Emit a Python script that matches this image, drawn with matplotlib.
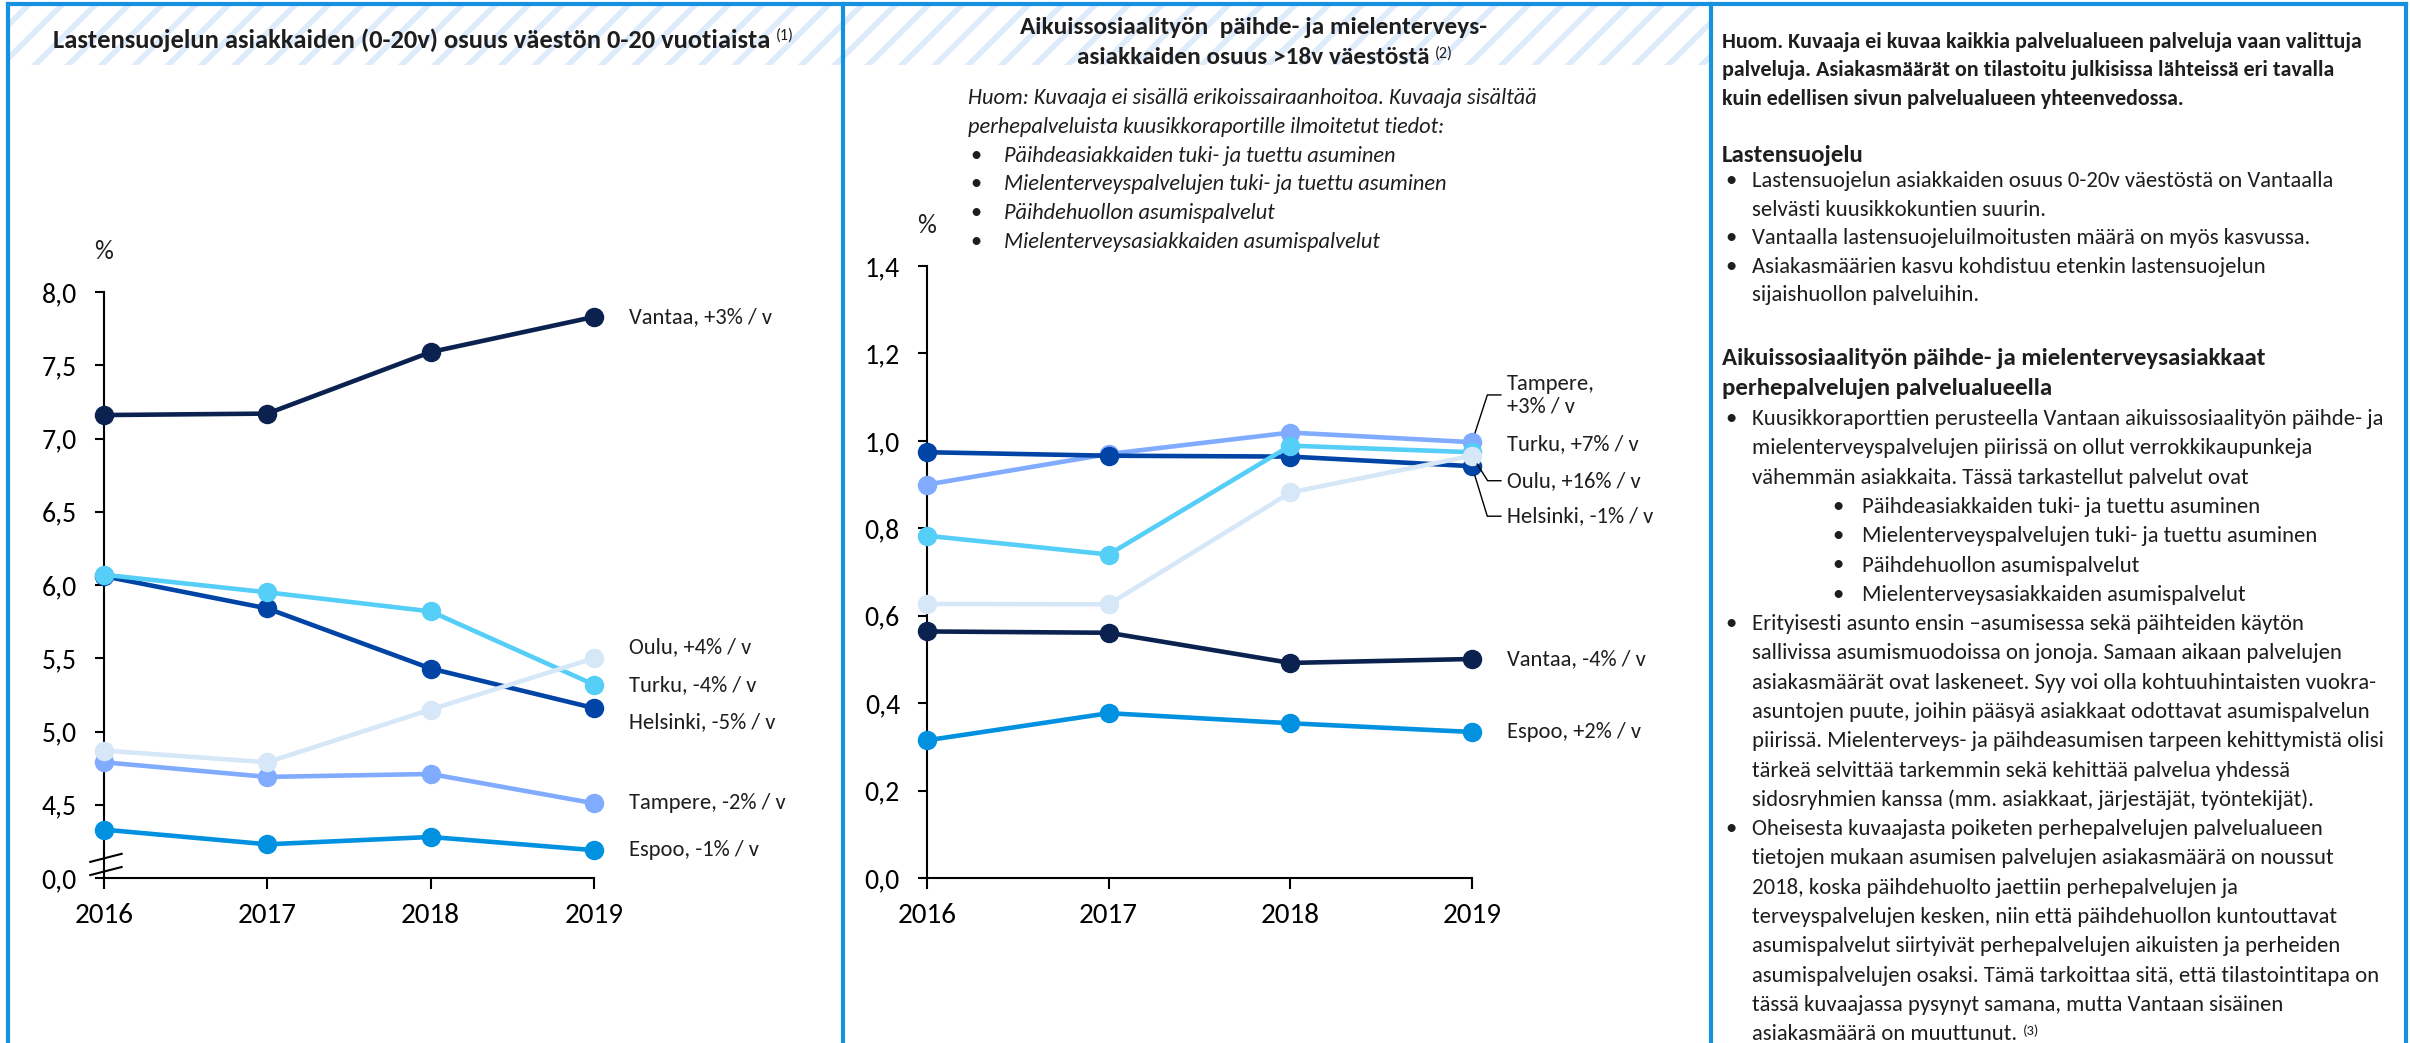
import matplotlib
matplotlib.use("Agg")
import matplotlib.pyplot as plt
import matplotlib.transforms as mtransforms
from matplotlib.lines import Line2D
from matplotlib.patches import Rectangle
from matplotlib.ticker import FixedLocator, FuncFormatter

W, H = 2410, 1043

# ---- data -----------------------------------------------------------------
years = [2016, 2017, 2018, 2019]
cities = ["Espoo", "Tampere", "Helsinki", "Turku", "Oulu", "Vantaa"]

# Lastensuojelun asiakkaiden osuus 0-20v vaestosta (%)
child_vantaa = [7.16, 7.17, 7.59, 7.83]
child_helsinki = [6.06, 5.84, 5.43, 5.16]
child_turku = [6.07, 5.95, 5.82, 5.32]
child_oulu = [4.87, 4.79, 5.15, 5.50]
child_tampere = [4.79, 4.69, 4.71, 4.51]
child_espoo = [4.33, 4.23, 4.28, 4.19]
child_growth = ["-1%", "-2%", "-5%", "-4%", "+4%", "+3%"]

# Paihde- ja mielenterveysasiakkaiden osuus >18v vaestosta (%)
adult_vantaa = [0.564, 0.561, 0.492, 0.501]
adult_helsinki = [0.974, 0.966, 0.964, 0.942]
adult_turku = [0.783, 0.740, 0.989, 0.974]
adult_oulu = [0.627, 0.626, 0.882, 0.966]
adult_tampere = [0.900, 0.970, 1.019, 0.997]
adult_espoo = [0.315, 0.377, 0.354, 0.334]
adult_growth = ["+2%", "+3%", "-1%", "+7%", "+16%", "-4%"]

child = dict(zip(cities, [child_espoo, child_tampere, child_helsinki,
                          child_turku, child_oulu, child_vantaa]))
adult = dict(zip(cities, [adult_espoo, adult_tampere, adult_helsinki,
                          adult_turku, adult_oulu, adult_vantaa]))

# ---- style ----------------------------------------------------------------
COLORS = {
    "Vantaa": "#0B2250",
    "Helsinki": "#0044A6",
    "Turku": "#55CEF8",
    "Oulu": "#D6E7F8",
    "Tampere": "#80ABFF",
    "Espoo": "#0091E0",
}
BORDER = "#1591E0"
HATCH = "#DDEBFB"
TXT = "#1E1E1E"
FONT = ["Carlito", "Lato", "DejaVu Sans"]

plt.rcParams.update({
    "font.family": FONT,
    "text.color": TXT,
    "hatch.linewidth": 4.0,
    "axes.linewidth": 1.5,
})


def fx(px):
    return px / W


def fy(py):
    return 1 - py / H


fig = plt.figure(figsize=(W / 100, H / 100), dpi=100)

# header bands with diagonal stripes
for x0, x1 in [(10, 841), (845, 1709)]:
    fig.add_artist(Rectangle((fx(x0), fy(65)), (x1 - x0) / W, 59 / H,
                             transform=fig.transFigure, facecolor="white",
                             edgecolor=HATCH, hatch="/", lw=0, zorder=0))

# panel borders
for xs, ys in [((8, 8), (4, H)), ((2406, 2406), (4, H)), ((843, 843), (4, H)),
               ((1711, 1711), (4, H)), ((8, 2406), (4, 4))]:
    fig.add_artist(Line2D([fx(v) for v in xs], [fy(v) for v in ys],
                          color=BORDER, lw=3, transform=fig.transFigure, zorder=5))

# panel titles
t1 = fig.text(fx(412), fy(40), "Lastensuojelun asiakkaiden (0-20v) osuus väestön 0-20 vuotiaista",
              ha="center", va="center", fontsize=19.1, fontweight="bold")
fig.text(fx(1253), fy(28), "Aikuissosiaalityön  päihde- ja mielenterveys-",
         ha="center", va="center", fontsize=18.2, fontweight="bold")
t2b = fig.text(fx(1253), fy(57), "asiakkaiden osuus >18v väestöstä",
               ha="center", va="center", fontsize=18.2, fontweight="bold")


def superscript(anchor, label, size=11.5):
    fig.add_artist(plt.Annotation(label, xy=(1, 1), xycoords=anchor, xytext=(4, 0),
                                  textcoords="offset points", ha="left", va="top",
                                  fontsize=size))


superscript(t1, "(1)")
superscript(t2b, "(2)")

# note in the middle panel
note_lines = [
    "Huom: Kuvaaja ei sisällä erikoissairaanhoitoa. Kuvaaja sisältää",
    "perhepalveluista kuusikkoraportille ilmoitetut tiedot:",
]
note_bullets = [
    "Päihdeasiakkaiden tuki- ja tuettu asuminen",
    "Mielenterveyspalvelujen tuki- ja tuettu asuminen",
    "Päihdehuollon asumispalvelut",
    "Mielenterveysasiakkaiden asumispalvelut",
]
for i, line in enumerate(note_lines):
    fig.text(fx(968), fy(98 + i * 28.8), line, ha="left", va="center",
             fontsize=16.1, style="italic")
for i, line in enumerate(note_bullets):
    yy = fy(98 + (i + 2) * 28.8)
    fig.text(fx(970), yy, "•", ha="left", va="center", fontsize=16.1)
    fig.text(fx(1004), yy, line, ha="left", va="center", fontsize=16.1, style="italic")


def fmt_comma(v, _):
    return f"{v:.1f}".replace(".", ",")


def style_axes(ax):
    ax.spines["top"].set_visible(False)
    ax.spines["right"].set_visible(False)
    ax.set_xlim(years[0], years[-1])
    ax.set_xticks(years)
    ax.set_xticklabels([str(y) for y in years])
    ax.tick_params(axis="x", direction="out", length=8, width=1.5, pad=10, labelsize=21)
    ax.tick_params(axis="y", direction="out", length=6.5, width=1.5, pad=13, labelsize=20)
    ax.annotate("%", xy=(0, 1), xycoords="axes fraction", xytext=(0, 29),
                textcoords="offset points", ha="center", va="center", fontsize=19)


def draw_lines(ax, table):
    for city in cities:
        ax.plot(years, table[city], color=COLORS[city], lw=3.3, marker="o",
                markersize=13, clip_on=False, zorder=3, solid_capstyle="round")


# ---- left chart -----------------------------------------------------------
ax1 = fig.add_axes([fx(104), fy(878), (594 - 104) / W, (878 - 292) / H])
style_axes(ax1)
ax1.set_ylim(4.0, 8.0)
ax1.yaxis.set_major_locator(FixedLocator([4.0, 4.5, 5.0, 5.5, 6.0, 6.5, 7.0, 7.5, 8.0]))
ax1.yaxis.set_major_formatter(FuncFormatter(
    lambda v, p: "0,0" if abs(v - 4.0) < 1e-9 else fmt_comma(v, p)))
draw_lines(ax1, child)

# axis break marks
brk = mtransforms.blended_transform_factory(ax1.transAxes, ax1.transData)
for y0, y1 in [(4.11, 4.165), (4.02, 4.075)]:
    ax1.plot([-0.028, 0.036], [y0, y1], color="black", lw=1.5, transform=brk, clip_on=False)

child_label_dy = {"Vantaa": 0, "Oulu": 8, "Turku": 0, "Helsinki": -10, "Tampere": 0, "Espoo": 0}
for city, g in zip(cities, child_growth):
    ax1.annotate(f"{city}, {g} / v", xy=(years[-1], child[city][-1]),
                 xytext=(25, child_label_dy[city]), textcoords="offset points",
                 ha="left", va="center", fontsize=16.2)

# ---- middle chart ---------------------------------------------------------
ax2 = fig.add_axes([fx(927), fy(878), (1472 - 927) / W, (878 - 266) / H])
style_axes(ax2)
ax2.set_ylim(0.0, 1.4)
ax2.yaxis.set_major_locator(FixedLocator([0.0, 0.2, 0.4, 0.6, 0.8, 1.0, 1.2, 1.4]))
ax2.yaxis.set_major_formatter(FuncFormatter(fmt_comma))
draw_lines(ax2, adult)

adult_label_dy = {"Tampere": 34, "Turku": 6, "Oulu": -18, "Helsinki": -36, "Vantaa": 0, "Espoo": 0}
adult_leader = {"Tampere": 72, "Oulu": -58, "Helsinki": -73}
for city, g in zip(cities, adult_growth):
    label = f"{city},\n{g} / v" if city == "Tampere" else f"{city}, {g} / v"
    arrow = None
    if city in adult_leader:
        arrow = dict(arrowstyle="-", color="black", lw=1.0, shrinkA=2, shrinkB=7,
                     relpos=(0, 0.5),
                     connectionstyle=f"angle,angleA=0,angleB={adult_leader[city]},rad=0")
    ax2.annotate(label, xy=(years[-1], adult[city][-1]),
                 xytext=(25, adult_label_dy[city]), textcoords="offset points",
                 ha="left", va="center", fontsize=16.2, linespacing=1.15,
                 arrowprops=arrow)

# ---- right text panel -----------------------------------------------------
X_TXT, X_BUL, X_BTXT = 1722, 1725, 1752
X_SBUL, X_SBTXT = 1832, 1862
HEAD_SIZE = 17.9
BODY_SIZE = 16.4
intro = [
    "Huom. Kuvaaja ei kuvaa kaikkia palvelualueen palveluja vaan valittuja",
    "palveluja. Asiakasmäärät on tilastoitu julkisissa lähteissä eri tavalla",
    "kuin edellisen sivun palvelualueen yhteenvedossa.",
]
for i, line in enumerate(intro):
    fig.text(fx(X_TXT), fy(42 + i * 28.5), line, ha="left", va="center",
             fontsize=15.8, fontweight="bold")

fig.text(fx(X_TXT), fy(156), "Lastensuojelu", ha="left", va="center",
         fontsize=HEAD_SIZE, fontweight="bold")
child_text = [
    ("•", "Lastensuojelun asiakkaiden osuus 0-20v väestöstä on Vantaalla"),
    ("", "selvästi kuusikkokuntien suurin."),
    ("•", "Vantaalla lastensuojeluilmoitusten määrä on myös kasvussa."),
    ("•", "Asiakasmäärien kasvu kohdistuu etenkin lastensuojelun"),
    ("", "sijaishuollon palveluihin."),
]
for i, (b, line) in enumerate(child_text):
    yy = fy(181 + i * 28.5)
    if b:
        fig.text(fx(X_BUL), yy, b, ha="left", va="center", fontsize=BODY_SIZE)
    fig.text(fx(X_BTXT), yy, line, ha="left", va="center", fontsize=BODY_SIZE)

fig.text(fx(X_TXT), fy(358), "Aikuissosiaalityön päihde- ja mielenterveysasiakkaat",
         ha="left", va="center", fontsize=HEAD_SIZE, fontweight="bold")
fig.text(fx(X_TXT), fy(388), "perhepalvelujen palvelualueella",
         ha="left", va="center", fontsize=HEAD_SIZE, fontweight="bold")

adult_text = [
    ("b", "Kuusikkoraporttien perusteella Vantaan aikuissosiaalityön päihde- ja"),
    ("", "mielenterveyspalvelujen piirissä on ollut verrokkikaupunkeja"),
    ("", "vähemmän asiakkaita. Tässä tarkastellut palvelut ovat"),
    ("s", "Päihdeasiakkaiden tuki- ja tuettu asuminen"),
    ("s", "Mielenterveyspalvelujen tuki- ja tuettu asuminen"),
    ("s", "Päihdehuollon asumispalvelut"),
    ("s", "Mielenterveysasiakkaiden asumispalvelut"),
    ("b", "Erityisesti asunto ensin –asumisessa sekä päihteiden käytön"),
    ("", "sallivissa asumismuodoissa on jonoja. Samaan aikaan palvelujen"),
    ("", "asiakasmäärät ovat laskeneet. Syy voi olla kohtuuhintaisten vuokra-"),
    ("", "asuntojen puute, joihin pääsyä asiakkaat odottavat asumispalvelun"),
    ("", "piirissä. Mielenterveys- ja päihdeasumisen tarpeen kehittymistä olisi"),
    ("", "tärkeä selvittää tarkemmin sekä kehittää palvelua yhdessä"),
    ("", "sidosryhmien kanssa (mm. asiakkaat, järjestäjät, työntekijät)."),
    ("b", "Oheisesta kuvaajasta poiketen perhepalvelujen palvelualueen"),
    ("", "tietojen mukaan asumisen palvelujen asiakasmäärä on noussut"),
    ("", "2018, koska päihdehuolto jaettiin perhepalvelujen ja"),
    ("", "terveyspalvelujen kesken, niin että päihdehuollon kuntouttavat"),
    ("", "asumispalvelut siirtyivät perhepalvelujen aikuisten ja perheiden"),
    ("", "asumispalvelujen osaksi. Tämä tarkoittaa sitä, että tilastointitapa on"),
    ("", "tässä kuvaajassa pysynyt samana, mutta Vantaan sisäinen"),
    ("", "asiakasmäärä on muuttunut."),
]
last = None
for i, (kind, line) in enumerate(adult_text):
    yy = fy(419 + i * 29.3)
    if kind == "b":
        fig.text(fx(X_BUL), yy, "•", ha="left", va="center", fontsize=BODY_SIZE)
    if kind == "s":
        fig.text(fx(X_SBUL), yy, "•", ha="left", va="center", fontsize=BODY_SIZE)
        x_line = X_SBTXT
    else:
        x_line = X_BTXT
    last = fig.text(fx(x_line), yy, line, ha="left", va="center", fontsize=BODY_SIZE)
superscript(last, "(3)", size=10.5)

fig.savefig("out.png", dpi=100)
